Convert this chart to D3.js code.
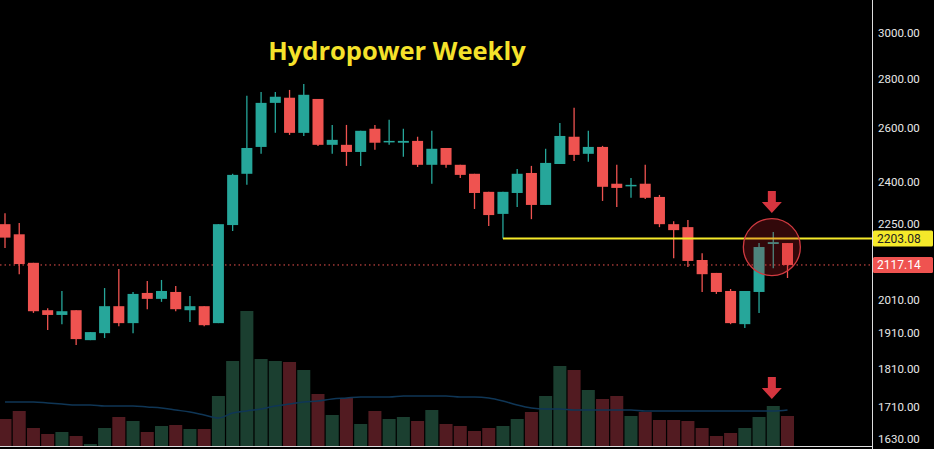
<!DOCTYPE html>
<html><head><meta charset="utf-8">
<script src="https://cdn.jsdelivr.net/npm/d3@7"></script>
<style>body{margin:0;background:#000;overflow:hidden}svg{display:block}</style>
</head><body><svg id="c" width="934" height="449"></svg>
<script>
const opens  = [2251,2217,2124,1978,1964,1978,1891,1911,1990,1940,2030,2012,2033,1978,1990,1940,2248,2428,2528,2701,2722,2582,2717,2536,2536,2509,2598,2547,2544,2551,2461,2524,2461,2428,2363,2286,2359,2431,2317,2464,2567,2502,2528,2392,2385,2392,2345,2251,2241,2133,2092,2036,1937,2033,2185,2188];
const highs  = [2288,2255,2124,1984,2036,1978,1914,2045,2104,2033,2067,2070,2051,2021,1990,2251,2428,2730,2746,2746,2754,2779,2717,2613,2613,2590,2613,2633,2598,2567,2590,2524,2461,2428,2363,2363,2446,2457,2521,2621,2681,2590,2532,2461,2413,2461,2352,2261,2265,2155,2092,2042,2036,2188,2225,2188];
const lows   = [2172,2088,1970,1920,1937,1877,1891,1897,1931,1911,1981,2003,1975,1943,1931,1940,2228,2388,2502,2582,2574,2570,2532,2502,2457,2457,2517,2536,2491,2453,2392,2450,2413,2303,2245,2203.08,2310,2268,2317,2464,2475,2472,2331,2310,2342,2338,2241,2139,2111,2033,2027,1937,1926,1970,2107,2076];
const closes = [2206,2120,1975,1964,1975,1894,1914,1990,1940,2027,2012,2036,1981,1990,1934,2251,2424,2524,2701,2726,2582,2734,2536,2555,2509,2590,2544,2551,2551,2461,2521,2461,2424,2359,2282,2363,2428,2317,2468,2570,2498,2528,2381,2377,2388,2342,2251,2231,2130,2088,2033,1940,2036,2175,2191,2117.14];
const volumes = [27,35,18,12,14,10,2,18,29,25,14,20,21,17,17,50,85,135,87,85,84,76,52,31,48,22,35,27,29,25,36,22,20,15,18,20,27,34,50,80,76,56,47,50,30,34,26,26,25,18,10,13,18,29,40,30];
const volMA = [44,44,44,43,42,41,41,40,40,40,39,38,36,34,31,28,33,35,37,40,42,44,45,47,48,49,49,49,50,50,50,50,49,49,48,45,41,38,37,37,36,36,36,36,36,35,35,35,35,35,35,35,35,35,35,36];
const priceTicks = [3000,2800,2600,2400,2250,2010,1910,1810,1710,1630];
const keyLevel = 2203.08, lastPrice = 2117.14, keyStart = 35;

const svg = d3.select("#c");
const n = opens.length;
const x = d3.scaleLinear().domain([0, n-1]).range([5, 787.5]);
const y = d3.scaleLog().domain([1630, 3000]).range([439, 33]);
const yv = d3.scaleLinear().domain([0, 135]).range([446, 311]);
const up = "#26a69a", dn = "#ef5350";

svg.append("g").selectAll("rect").data(volumes).join("rect")
  .attr("x", (d,i)=>x(i)-6.5).attr("width",13)
  .attr("y", d=>yv(d)).attr("height", d=>yv(0)-yv(d))
  .attr("fill", (d,i)=> closes[i]>=opens[i] ? "#1b3f30" : "#521b21");
svg.append("path").datum(volMA)
  .attr("d", d3.line().x((d,i)=>x(i)).y(d=>yv(d)).curve(d3.curveMonotoneX))
  .attr("fill","none").attr("stroke","#0f3656").attr("stroke-width",1.5);

svg.append("line").attr("x1",0).attr("x2",872).attr("y1",y(lastPrice)).attr("y2",y(lastPrice))
  .attr("stroke",dn).attr("stroke-dasharray","1.5,3").attr("stroke-width",1);

const g = svg.append("g");
d3.range(n).forEach(i=>{
  const c = closes[i]>=opens[i] ? up : dn;
  g.append("line").attr("x1",x(i)).attr("x2",x(i)).attr("y1",y(highs[i])).attr("y2",y(lows[i])).attr("stroke",c).attr("stroke-width",1.3);
  const t = y(Math.max(opens[i],closes[i])), b = y(Math.min(opens[i],closes[i]));
  g.append("rect").attr("x",x(i)-5.5).attr("width",11).attr("y",t).attr("height",Math.max(1.5,b-t)).attr("fill",c);
});

svg.append("line").attr("x1",x(keyStart)).attr("x2",872).attr("y1",y(keyLevel)).attr("y2",y(keyLevel))
  .attr("stroke","#f5e92a").attr("stroke-width",2);

const cx = x(n-2.1), cy = y(2175);
svg.append("circle").attr("cx",cx).attr("cy",cy).attr("r",28.5)
  .attr("fill","rgba(200,30,40,0.25)").attr("stroke","#d03a40").attr("stroke-width",1.3);
function arrow(ax, ay){
  svg.append("path").attr("d",`M${ax-4},${ay} h8 v11 h6 l-10,11 l-10,-11 h6 z`).attr("fill","#d5353f");
}
arrow(cx, 191); arrow(cx, 377);

svg.append("line").attr("x1",872.5).attr("x2",872.5).attr("y1",0).attr("y2",449).attr("stroke","#ddd").attr("stroke-width",1);
svg.append("line").attr("x1",0).attr("x2",872).attr("y1",446.5).attr("y2",446.5).attr("stroke","#ddd").attr("stroke-width",1);
svg.append("g").selectAll("text").data(priceTicks).join("text")
  .attr("x",878).attr("y",d=>y(d)+4).text(d=>d.toFixed(2))
  .attr("fill","#e8e8e8").attr("font-family","Roboto, sans-serif").attr("font-size",11.5);
function tag(v, bg, fg){
  svg.append("rect").attr("x",873).attr("y",y(v)-8).attr("width",60).attr("height",16).attr("fill",bg).attr("rx",1.5);
  svg.append("text").attr("x",877).attr("y",y(v)+4.5).text(v.toFixed(2)).attr("fill",fg)
    .attr("font-family","Roboto, sans-serif").attr("font-size",12);
}
tag(keyLevel, "#f5e92a", "#222");
tag(lastPrice, "#ef5350", "#fff");

svg.append("text").attr("x",397).attr("y",60).attr("text-anchor","middle").text("Hydropower Weekly")
  .attr("fill","#f5e22b").attr("font-family","'Open Sans', sans-serif").attr("font-weight","bold").attr("font-size",25.5);
</script></body></html>
